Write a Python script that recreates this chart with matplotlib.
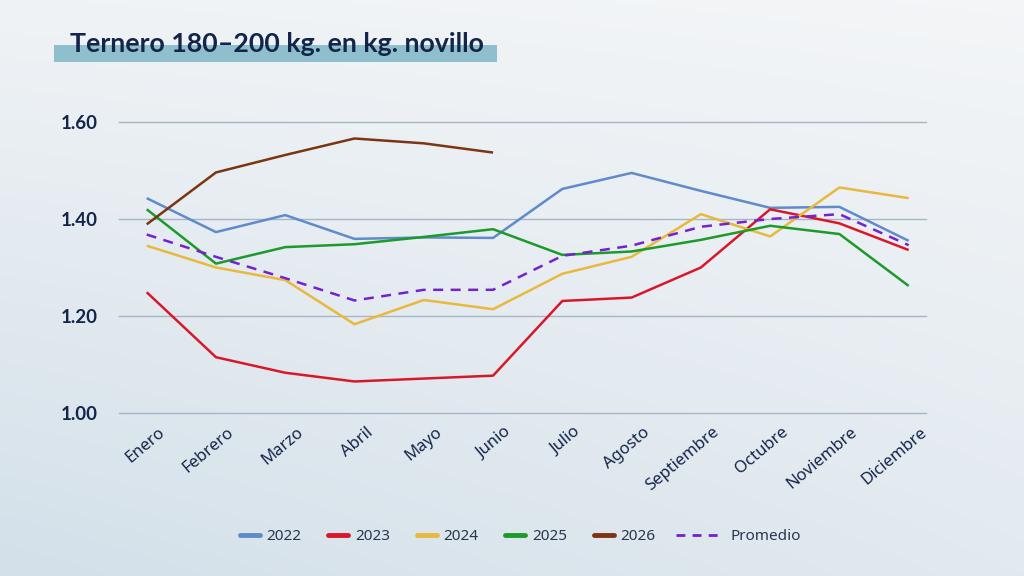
import numpy as np
import matplotlib
matplotlib.use("Agg")
import matplotlib.pyplot as plt
from matplotlib.lines import Line2D
from matplotlib.patches import Rectangle
import matplotlib.transforms as mtransforms

meses = ["Enero", "Febrero", "Marzo", "Abril", "Mayo", "Junio", "Julio",
         "Agosto", "Septiembre", "Octubre", "Noviembre", "Diciembre"]

v2022 = [1.443, 1.373, 1.408, 1.359, 1.362, 1.361, 1.462, 1.495, 1.458, 1.423, 1.425, 1.355]
v2023 = [1.249, 1.115, 1.083, 1.065, 1.071, 1.077, 1.231, 1.238, 1.300, 1.420, 1.391, 1.336]
v2024 = [1.345, 1.300, 1.274, 1.183, 1.233, 1.214, 1.287, 1.322, 1.410, 1.364, 1.465, 1.443]
v2025 = [1.420, 1.308, 1.342, 1.348, 1.363, 1.379, 1.326, 1.333, 1.357, 1.386, 1.369, 1.262]
v2026 = [1.389, 1.496, 1.532, 1.566, 1.556, 1.537]
promedio = [1.368, 1.322, 1.278, 1.232, 1.254, 1.254, 1.324, 1.345, 1.384, 1.400, 1.410, 1.346]

yticks = [1.00, 1.20, 1.40, 1.60]
ytick_labels = ["1.00", "1.20", "1.40", "1.60"]

titulo = "Ternero 180–200 kg. en kg. novillo"

series = [
    ("2022", v2022, "#5f8bcb", "-"),
    ("2023", v2023, "#d8182a", "-"),
    ("2024", v2024, "#e8b93c", "-"),
    ("2025", v2025, "#1c9a2b", "-"),
    ("2026", v2026, "#7b3513", "-"),
]

navy = "#13254a"
labfont = ["Noto Sans", "DejaVu Sans"]

fig = plt.figure(figsize=(10.24, 5.76), dpi=100)

# background gradient
bg = fig.add_axes([0, 0, 1, 1], zorder=-10)
gx, gy = np.meshgrid(np.linspace(0, 1, 256), np.linspace(0, 1, 144))
t = np.clip(0.55 * (1 - gy) + 0.35 * (1 - gx) * (1 - gy) + 0.12 * (1 - gx), 0, 1)
top = np.array([0.955, 0.962, 0.970])
bot = np.array([0.830, 0.880, 0.915])
img = top[None, None, :] * (1 - t[..., None]) + bot[None, None, :] * t[..., None]
bg.imshow(img, aspect="auto", extent=[0, 1, 0, 1], origin="lower")
bg.axis("off")

# title with highlight bar
fig.patches.append(Rectangle((54 / 1024, 1 - 62 / 576), (497 - 54) / 1024, 17 / 576,
                             transform=fig.transFigure, facecolor="#8fbfcd",
                             edgecolor="none", zorder=1))
fig.text(70 / 1024, 1 - 52 / 576, titulo, fontsize=19.3, fontweight="bold",
         family="Lato", color=navy, ha="left", va="baseline", zorder=2)

ax = fig.add_axes([119 / 1024, 1 - 413 / 576, (926 - 119) / 1024, (413 - 122) / 576])
ax.set_facecolor("none")
x = np.arange(len(meses))

for name, vals, col, ls in series:
    ax.plot(x[:len(vals)], vals, color=col, lw=1.8, ls=ls, solid_capstyle="butt", zorder=3)
ax.plot(x, promedio, color="#7422cc", lw=1.8, ls=(0, (4, 3)), zorder=4)

ax.set_ylim(1.0, 1.6)
ax.set_xlim(-0.40, 11.25)
ax.set_yticks(yticks)
ax.set_yticklabels(ytick_labels, fontsize=13.5, fontweight="bold", family="Lato", color=navy)
ax.grid(axis="y", color="#a8b5c6", lw=1.0)
for gl in ax.get_ygridlines():
    gl.set_clip_on(False)
ax.set_axisbelow(True)
for s in ax.spines.values():
    s.set_visible(False)
ax.tick_params(axis="y", length=0, pad=15)
ax.tick_params(axis="x", length=0, pad=8)
ax.set_xticks(x)
ax.set_xticklabels(meses, fontsize=12, family=labfont, color=navy,
                   rotation=40, ha="right", rotation_mode="anchor")
offset = mtransforms.ScaledTranslation(11 / 100, 0, fig.dpi_scale_trans)
for lab in ax.get_xticklabels():
    lab.set_transform(lab.get_transform() + offset)

# legends
h1 = [Line2D([], [], color=c, lw=3.5, solid_capstyle="round") for _, _, c, _ in series]
leg1 = fig.legend(h1, [s[0] for s in series], loc="center left",
                  bbox_to_anchor=(240 / 1024, 1 - 537 / 576), ncol=5, frameon=False,
                  handlelength=1.3, handletextpad=0.45, columnspacing=1.75,
                  borderpad=0, borderaxespad=0,
                  prop={"family": labfont, "size": 11})
for tx in leg1.get_texts():
    tx.set_color("#2a3550")
h2 = [Line2D([], [], color="#7422cc", lw=2.0, ls=(0, (3.2, 2.6)))]
leg2 = fig.legend(h2, ["Promedio"], loc="center left",
                  bbox_to_anchor=(676 / 1024, 1 - 537 / 576), frameon=False,
                  handlelength=3.0, handletextpad=0.6, borderpad=0, borderaxespad=0,
                  prop={"family": labfont, "size": 11})
for tx in leg2.get_texts():
    tx.set_color("#2a3550")

fig.savefig("out.png", dpi=100)
